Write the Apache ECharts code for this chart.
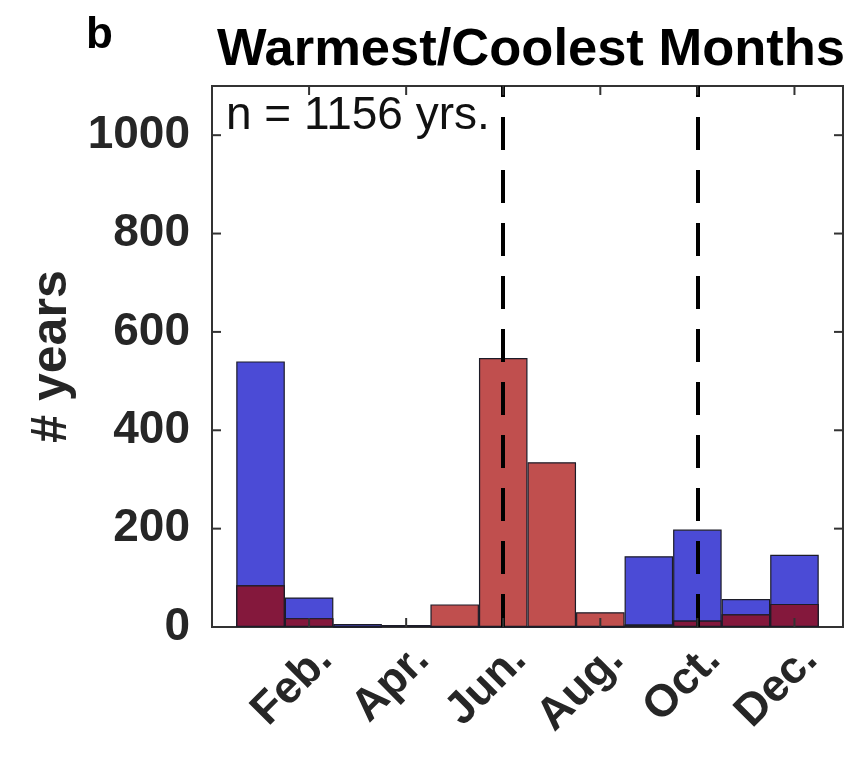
<!DOCTYPE html>
<html>
<head>
<meta charset="utf-8">
<script src="https://cdn.jsdelivr.net/npm/echarts@6/dist/echarts.min.js"></script>
<style>
  html, body { margin: 0; padding: 0; background: #ffffff; }
  #chart { width: 858px; height: 757px; }
</style>
</head>
<body>
<div id="chart"></div>
<script>
// Month names used for the x tick labels (every second month is shown)
const monthLabels = ['Jan.', 'Feb.', 'Mar.', 'Apr.', 'May', 'Jun.', 'Jul.', 'Aug.', 'Sep.', 'Oct.', 'Nov.', 'Dec.'];
const monthPositions = [1, 2, 3, 4, 5, 6, 7, 8, 9, 10, 11, 12];

// Number of years in which each month was the coolest / warmest of the year
const coolestCounts = [540, 60, 6, 4, 0, 0, 0, 0, 144, 198, 57, 147];
const warmestCounts = [85, 18, 0, 4, 46, 547, 335, 30, 5, 13, 26, 47];

// Months marked with dashed vertical lines
const markerMonths = [6, 10];

// Tick positions on the box (drawn pointing inward on all four sides)
const xTickValues = [2, 4, 6, 8, 10, 12];
const yTickValues = [0, 200, 400, 600, 800, 1000];

const totalYears = 1156;

const FONT = '"Liberation Sans", Arial, Helvetica, sans-serif';
const GRID = { left: 212, top: 86, width: 631, height: 541 };
const X_MIN = 0, X_MAX = 13;
const barPx = GRID.width / (X_MAX - X_MIN);
const TICK_LEN = 9;

const coolData = monthPositions.map((m, i) => [m, coolestCounts[i]]);
const warmData = monthPositions.map((m, i) => [m, warmestCounts[i]]);
const overlapData = monthPositions.map((m, i) => [m, Math.min(coolestCounts[i], warmestCounts[i])]);

const axisColor = '#333333';
const edge = { borderColor: '#1c1c28', borderWidth: 1.2 };

const chart = echarts.init(document.getElementById('chart'), null, { renderer: 'canvas' });

const xLabelFmt = v => (v >= 1 && v <= 12 && v % 2 === 0) ? monthLabels[v - 1] : '';

// Inward tick marks: each data item is [axisFlag, value]; 0 = x tick, 1 = y tick
const tickData = xTickValues.map(v => [0, v]).concat(yTickValues.map(v => [1, v]));
function renderTick(params, api) {
  const cs = params.coordSys;
  const kind = api.value(0);
  const v = api.value(1);
  const style = { stroke: axisColor, lineWidth: 2 };
  if (kind === 0) {
    const px = api.coord([v, 0])[0];
    return { type: 'group', children: [
      { type: 'line', shape: { x1: px, y1: cs.y + cs.height, x2: px, y2: cs.y + cs.height - TICK_LEN }, style },
      { type: 'line', shape: { x1: px, y1: cs.y, x2: px, y2: cs.y + TICK_LEN }, style }
    ] };
  }
  const py = api.coord([X_MIN, v])[1];
  return { type: 'group', children: [
    { type: 'line', shape: { x1: cs.x, y1: py, x2: cs.x + TICK_LEN, y2: py }, style },
    { type: 'line', shape: { x1: cs.x + cs.width, y1: py, x2: cs.x + cs.width - TICK_LEN, y2: py }, style }
  ] };
}

chart.setOption({
  animation: false,
  backgroundColor: '#ffffff',
  grid: Object.assign({ show: true, borderColor: axisColor, borderWidth: 2, backgroundColor: 'transparent' }, GRID),
  xAxis: {
    type: 'value', min: X_MIN, max: X_MAX, interval: 2, position: 'bottom',
    axisLine: { show: true, lineStyle: { color: axisColor, width: 2 } },
    axisTick: { show: false },
    splitLine: { show: false },
    axisLabel: {
      formatter: xLabelFmt, rotate: 45, margin: 10,
      align: 'right', verticalAlign: 'top',
      fontFamily: FONT, fontWeight: 'bold', fontSize: 45, color: '#262626'
    }
  },
  yAxis: {
    type: 'value', min: 0, max: 1100, interval: 200, position: 'left',
    name: '# years', nameLocation: 'middle', nameGap: 133, nameRotate: 90,
    nameTextStyle: { fontFamily: FONT, fontWeight: 'bold', fontSize: 50, color: '#262626' },
    axisLine: { show: true, lineStyle: { color: axisColor, width: 2 } },
    axisTick: { show: false },
    splitLine: { show: false },
    axisLabel: {
      showMaxLabel: false, margin: 22,
      formatter: v => String(v),
      fontFamily: FONT, fontWeight: 'bold', fontSize: 46, color: '#262626'
    }
  },
  series: [
    {
      name: 'Coolest', type: 'bar',
      data: coolData, barWidth: barPx, barGap: '-100%',
      itemStyle: Object.assign({ color: '#4b4bd6' }, edge), z: 2
    },
    {
      name: 'Warmest', type: 'bar',
      data: warmData, barWidth: barPx, barGap: '-100%',
      itemStyle: Object.assign({ color: '#c04f4e' }, edge), z: 3
    },
    {
      name: 'Both', type: 'bar',
      data: overlapData, barWidth: barPx, barGap: '-100%',
      itemStyle: Object.assign({ color: '#84183c' }, edge), z: 4,
      markLine: {
        silent: true, symbol: ['none', 'none'], label: { show: false },
        lineStyle: { color: '#000000', width: 4, type: [33, 20] },
        data: markerMonths.map(m => ({ xAxis: m }))
      }
    },
    {
      name: 'ticks', type: 'custom', silent: true, z: 6,
      renderItem: renderTick, data: tickData,
      encode: { x: -1, y: -1 }, clip: false
    }
  ],
  graphic: [
    {
      type: 'text', left: 226, top: 93, z: 10,
      style: { text: 'n = ' + totalYears + ' yrs.', font: '46px ' + FONT, fill: '#111111' }
    },
    {
      type: 'text', x: 531, y: 51, z: 10,
      style: { text: 'Warmest/Coolest Months', font: 'bold 52.5px ' + FONT, fill: '#000000',
               textAlign: 'center', textVerticalAlign: 'middle' }
    },
    {
      type: 'text', x: 86, y: 36, z: 10,
      style: { text: 'b', font: 'bold 44px ' + FONT, fill: '#000000',
               textAlign: 'left', textVerticalAlign: 'middle' }
    }
  ]
});
</script>
</body>
</html>
